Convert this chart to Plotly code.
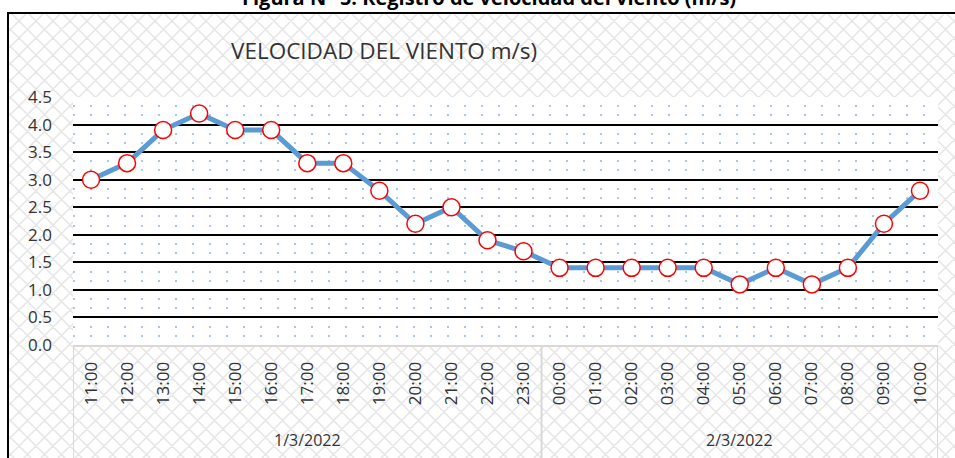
import plotly.graph_objects as go

# ---------------- data ----------------
hours = ["11:00", "12:00", "13:00", "14:00", "15:00", "16:00", "17:00", "18:00",
         "19:00", "20:00", "21:00", "22:00", "23:00",
         "00:00", "01:00", "02:00", "03:00", "04:00", "05:00", "06:00",
         "07:00", "08:00", "09:00", "10:00"]
wind_speed = [3.0, 3.3, 3.9, 4.2, 3.9, 3.9, 3.3, 3.3, 2.8, 2.2, 2.5, 1.9, 1.7,
              1.4, 1.4, 1.4, 1.4, 1.4, 1.1, 1.4, 1.1, 1.4, 2.2, 2.8]
day_labels = ["1/3/2022", "2/3/2022"]
day_sizes = [13, 11]
y_ticks = [0.0, 0.5, 1.0, 1.5, 2.0, 2.5, 3.0, 3.5, 4.0, 4.5]

fig_title = "Figura N° 5. Registro de velocidad del viento (m/s)"
chart_title = "VELOCIDAD DEL VIENTO m/s)"

# ---------------- layout geometry (pixels) ----------------
W, H = 955, 458
L, R, T, B = 73, 938, 97, 345


def px(x):
    return (x - L) / (R - L)


def py(y):
    return (B - y) / (B - T)


# lattice background pattern (decorative)
X0, X1, Y0, Y1 = 9, 960, 14, 470
s = 17
segs = []
c = -(Y1 - X0) - s
while c < X1 - Y0 + s:
    xa, xb = max(X0, Y0 + c), min(X1, Y1 + c)
    if xa < xb:
        segs.append(f"M{px(xa):.5f},{py(xa - c):.5f}L{px(xb):.5f},{py(xb - c):.5f}")
    c += s
c = X0 + Y0 - s
while c < X1 + Y1 + s:
    xa, xb = max(X0, c - Y1), min(X1, c - Y0)
    if xa < xb:
        segs.append(f"M{px(xa):.5f},{py(c - xa):.5f}L{px(xb):.5f},{py(c - xb):.5f}")
    c += s
lattice_path = "".join(segs)

shapes = [
    dict(type="path", path=lattice_path, xref="paper", yref="paper",
         line=dict(color="#e6e6e6", width=1.5), layer="below"),
    dict(type="rect", xref="paper", yref="paper", x0=0, x1=1, y0=0, y1=1,
         fillcolor="white", line=dict(width=0), layer="below"),
    dict(type="rect", xref="paper", yref="paper", x0=px(8), x1=px(990),
         y0=py(13), y1=py(500), line=dict(color="black", width=2),
         fillcolor="rgba(0,0,0,0)", layer="above"),
]

# group dividers on the category axis
bounds = [-0.5]
for n in day_sizes:
    bounds.append(bounds[-1] + n)
for b in bounds:
    shapes.append(dict(type="line", xref="x", yref="paper", x0=b, x1=b,
                       y0=0, y1=py(470), line=dict(color="#d9d9d9", width=2),
                       layer="above"))

annotations = [
    dict(text=f"<b>{fig_title}</b>", xref="paper", yref="paper", x=px(489), y=py(13),
         xanchor="center", yanchor="bottom", showarrow=False,
         font=dict(family="Open Sans", size=20, color="black")),
    dict(text=chart_title, xref="paper", yref="paper", x=px(229), y=py(50),
         xanchor="left", yanchor="middle", showarrow=False,
         font=dict(family="Open Sans", size=22.5, color="#333333")),
]
start = 0
for lab, n in zip(day_labels, day_sizes):
    center = start + (n - 1) / 2
    annotations.append(dict(text=lab, xref="x", yref="paper", x=center, y=py(440),
                            xanchor="center", yanchor="middle", showarrow=False,
                            font=dict(family="Open Sans", size=16, color="#333333")))
    start += n

fig = go.Figure()
fig.add_trace(go.Scatter(
    x=hours, y=wind_speed, mode="lines+markers",
    line=dict(color="#5b9bd5", width=5),
    marker=dict(symbol="circle", size=17, color="white",
                line=dict(color="#ff0000", width=1.5)),
    cliponaxis=False, showlegend=False,
))

fig.update_layout(
    width=W, height=H,
    margin=dict(l=L, r=W - R, t=T, b=H - B, pad=0),
    paper_bgcolor="white", plot_bgcolor="white",
    shapes=shapes, annotations=annotations,
    font=dict(family="Open Sans", size=17, color="#333333"),
    showlegend=False,
)
fig.update_xaxes(
    type="category", categoryorder="array", categoryarray=hours,
    range=[-0.5, len(hours) - 0.5],
    tickangle=-90, showgrid=False, zeroline=False,
    showline=True, linecolor="#d9d9d9", linewidth=2,
    ticks="", ticklabelstandoff=8,
    tickfont=dict(family="Open Sans", size=17, color="#333333"),
)
fig.update_yaxes(
    range=[0, 4.5], tickvals=y_ticks, tickformat=".1f",
    showgrid=True, gridcolor="black", gridwidth=2,
    zeroline=False, showline=False, ticks="", ticklabelstandoff=20,
    tickfont=dict(family="Open Sans", size=17, color="#333333"),
    minor=dict(dtick=0.5 / 3, tick0=0, showgrid=True, gridcolor="#a9c9ea",
               gridwidth=2, griddash="2px,15px"),
)

fig.write_html("out.html", config={"displayModeBar": False},
               post_script="document.body.style.margin='0';")
